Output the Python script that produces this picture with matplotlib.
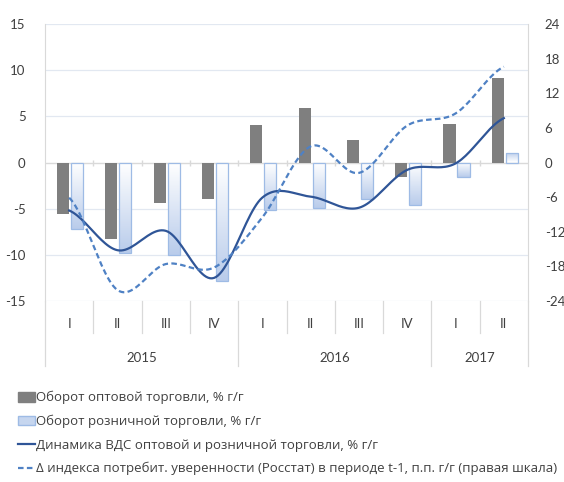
import numpy as np
import matplotlib.pyplot as plt
from matplotlib.colors import LinearSegmentedColormap
from matplotlib.patches import Patch
from matplotlib.lines import Line2D
import matplotlib.transforms as mtransforms

plt.rcParams['font.family'] = ['Lato', 'DejaVu Sans']
plt.rcParams['axes.unicode_minus'] = False

quarters = ['I', 'II', 'III', 'IV', 'I', 'II', 'III', 'IV', 'I', 'II']
years = ['2015', '2016', '2017']
year_sizes = [4, 4, 2]

wholesale = [-5.6, -8.3, -4.4, -4.0, 4.1, 5.9, 2.4, -1.6, 4.2, 9.2]
retail = [-7.2, -9.8, -10.0, -12.8, -5.1, -4.9, -3.9, -4.6, -1.6, 1.0]
gva = [-5.2, -9.5, -7.4, -12.5, -3.8, -3.7, -4.9, -0.8, -0.1, 4.8]
confidence = [-6.1, -22.1, -17.6, -18.2, -9.5, 2.8, -1.8, 6.4, 8.5, 16.6]

labels = ['Оборот оптовой торговли, % г/г',
          'Оборот розничной торговли, % г/г',
          'Динамика ВДС оптовой и розничной торговли, % г/г',
          'Δ индекса потребит. уверенности (Росстат) в периоде t-1, п.п. г/г (правая шкала)']

GRAY = '#7f7f7f'
LBLUE = '#c6d6ef'
LEDGE = '#9ebbe5'
DBLUE = '#2f5597'
MBLUE = '#4f81c4'
GRID = '#e2e8f1'
AXC = '#d9d9d9'
TXT = '#404040'


def smooth(y, n=24):
    # catmull-rom style smoothing, like excel's "smoothed line"
    y = np.asarray(y, float)
    xs, ys = [], []
    for i in range(len(y) - 1):
        m0 = (y[i + 1] - y[i - 1]) / 2 if i > 0 else (y[i + 1] - y[i]) / 2
        m1 = (y[i + 2] - y[i]) / 2 if i + 2 < len(y) else (y[i + 1] - y[i]) / 2
        t = np.linspace(0, 1, n, endpoint=False)
        h00 = 2 * t**3 - 3 * t**2 + 1
        h10 = t**3 - 2 * t**2 + t
        h01 = -2 * t**3 + 3 * t**2
        h11 = t**3 - t**2
        xs.append(i + t)
        ys.append(h00 * y[i] + h10 * m0 + h01 * y[i + 1] + h11 * m1)
    xs.append([len(y) - 1])
    ys.append([y[-1]])
    return np.concatenate(xs), np.concatenate(ys)


fig = plt.figure(figsize=(5.64, 4.82), dpi=100)
ax = fig.add_axes([45 / 564, 1 - 301 / 482, 483 / 564, 277 / 482])
x = np.arange(len(quarters))

ax.set_xlim(-0.5, len(quarters) - 0.5)
ax.set_ylim(-15, 15)
ax.set_yticks(np.arange(-15, 16, 5))
for v in np.arange(-15, 16, 5):
    if v != 0:
        ax.axhline(v, color=GRID, lw=0.9, zorder=0)

ax.bar(x - 0.125, wholesale, width=0.25, color=GRAY, zorder=2)

cmap = LinearSegmentedColormap.from_list('rb', ['#ffffff', '#b9cceb'])
bars = ax.bar(x + 0.165, retail, width=0.25, facecolor='none',
              edgecolor=LEDGE, linewidth=0.9, zorder=3)
for b, v in zip(bars, retail):
    x0 = b.get_x()
    x1 = x0 + b.get_width()
    grad = np.linspace(0, 1, 64).reshape(-1, 1)
    if v < 0:
        grad = grad[::-1]
        ext = [x0, x1, v, 0]
    else:
        ext = [x0, x1, 0, v]
    im = ax.imshow(grad, extent=ext, origin='lower', aspect='auto',
                   cmap=cmap, vmin=0, vmax=1, zorder=2.5)
    im.set_clip_path(b)

ax.set_xlim(-0.5, len(quarters) - 0.5)
ax.set_ylim(-15, 15)

# zero axis with small ticks
ax.axhline(0, color=AXC, lw=1.0, zorder=1)
ax.plot(np.arange(len(quarters) - 1) + 0.5, np.zeros(len(quarters) - 1),
        ls='none', marker='|', ms=4, color=AXC, zorder=1)

sx, sy = smooth(gva)
ax.plot(sx, sy, color=DBLUE, lw=1.6, zorder=4)

for s in ['top', 'bottom', 'right']:
    ax.spines[s].set_visible(False)
ax.spines['left'].set_color(AXC)
ax.tick_params(axis='y', length=0, labelsize=9.5, colors=TXT, pad=14)
ax.set_xticks([])

ax2 = ax.twinx()
ax2.set_ylim(-24, 24)
ax2.set_yticks(np.arange(-24, 25, 6))
cx, cy = smooth(confidence)
ax2.plot(cx, cy, color=MBLUE, lw=1.6, ls=(0, (2.5, 1.5)), zorder=5)
for s in ['top', 'bottom', 'left']:
    ax2.spines[s].set_visible(False)
ax2.spines['right'].set_color(AXC)
ax2.tick_params(axis='y', length=0, labelsize=9.5, colors=TXT, pad=12)

# category axis below the plot
tr = mtransforms.blended_transform_factory(ax.transData, ax.transAxes)
for i, q in enumerate(quarters):
    ax.text(i, -0.082, q, transform=tr, ha='center', va='center',
            fontsize=9.5, color=TXT)
bounds = np.cumsum([0] + year_sizes) - 0.5
for k in range(len(quarters) + 1):
    b = k - 0.5
    low = -0.235 if b in bounds else -0.116
    ax.add_line(Line2D([b, b], [0, low], transform=tr, color=AXC,
                       lw=0.9, clip_on=False))
for yr, a, bnd in zip(years, bounds[:-1], bounds[1:]):
    ax.text((a + bnd) / 2, -0.205, yr, transform=tr, ha='center',
            va='center', fontsize=9.5, color=TXT)

handles = [Patch(facecolor=GRAY, edgecolor=GRAY),
           Patch(facecolor=LBLUE, edgecolor=LEDGE),
           Line2D([], [], color=DBLUE, lw=1.6),
           Line2D([], [], color=MBLUE, lw=1.6, ls=(0, (2.5, 1.5)))]
fig.legend(handles, labels, loc='upper left', bbox_to_anchor=(18 / 564, 1 - 391 / 482),
           frameon=False, prop={'family': ['Open Sans', 'DejaVu Sans'], 'size': 9.5},
           handlelength=1.3, handleheight=0.75,
           handletextpad=0.1, labelspacing=0.79, borderaxespad=0, borderpad=0,
           labelcolor=TXT)

fig.savefig('out.png', dpi=100)
